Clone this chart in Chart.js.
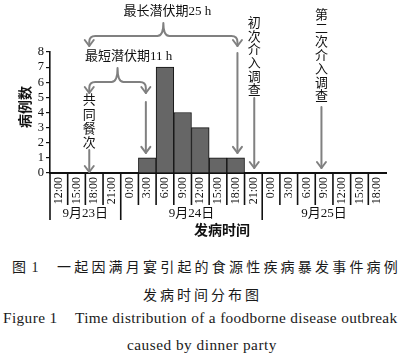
<!DOCTYPE html>
<html>
<head>
<meta charset="utf-8">
<script src="https://cdn.jsdelivr.net/npm/chart.js@4/dist/chart.umd.min.js"></script>
<style>
  html, body { margin: 0; padding: 0; background: #fff; }
  #wrap { position: relative; width: 406px; height: 356px; overflow: hidden; background: #fff; }
  #box { position: absolute; left: 0; top: 0; width: 406px; height: 240px; }
  .cap { position: absolute; white-space: nowrap; color: #1a1a1a; }
  .cn { font-family: "Liberation Serif", "Noto Sans CJK SC", serif; font-size: 14px; }
  .en { font-family: "Liberation Serif", serif; font-size: 15.3px; }
</style>
</head>
<body>
<div id="wrap">
  <div id="box"><canvas id="c"></canvas></div>
  <div class="cap cn" style="left:12px; top:256px; letter-spacing:1px;">图 1</div>
  <div class="cap cn" style="left:57px; top:256px; letter-spacing:3.2px;">一起因满月宴引起的食源性疾病暴发事件病例</div>
  <div class="cap cn" style="left:143px; top:284px; letter-spacing:3px;">发病时间分布图</div>
  <div class="cap en" style="left:3px; top:309px; letter-spacing:0.4px;">Figure 1</div>
  <div class="cap en" style="left:75px; top:309px; letter-spacing:0.35px;">Time distribution of a foodborne disease outbreak</div>
  <div class="cap en" style="left:127px; top:336px; letter-spacing:0.5px;">caused by dinner party</div>
</div>
<script>
// ---- data ----
const timeLabels = ['12:00','15:00','18:00','21:00','0:00','3:00','6:00','9:00','12:00','15:00','18:00','21:00','0:00','3:00','6:00','9:00','12:00','15:00','18:00'];
const caseCounts = [0,0,0,0,0,1,7,4,3,1,1,0,0,0,0,0,0,0,0];
const dayLabels = ['9月23日','9月24日','9月25日'];
const dayStartIndex = [0, 4, 12];
const yTickMax = 8;
// event positions on the time axis (category index, fractional)
const mealIndex = 1.72;
const minIncubationIndex = 4.92;
const maxIncubationIndex = 10.1;
const firstInvestigationIndex = 11.05;
const secondInvestigationIndex = 14.85;
const maxIncubationText = '最长潜伏期25 h';
const minIncubationText = '最短潜伏期11 h';
const mealText = '共同餐次';
const firstInvestigationText = '初次介入调查';
const secondInvestigationText = '第二次介入调查';

const serif = '"Liberation Serif", "Noto Sans CJK SC", serif';
const GRAY = '#808080';

function arrowHead(ctx, x, y) {
  ctx.beginPath();
  ctx.moveTo(x - 4.5, y - 6);
  ctx.lineTo(x, y);
  ctx.lineTo(x + 4.5, y - 6);
  ctx.stroke();
}
function vArrow(ctx, x, y1, y2) {
  ctx.beginPath();
  ctx.moveTo(x, y1);
  ctx.lineTo(x, y2);
  ctx.stroke();
  arrowHead(ctx, x, y2);
}
function brace(ctx, x1, x2, yH, yPeak, yTip) {
  const r = 6, xm = (x1 + x2) / 2;
  ctx.beginPath();
  ctx.moveTo(x1, yTip);
  ctx.lineTo(x1, yH + r);
  ctx.quadraticCurveTo(x1, yH, x1 + r, yH);
  ctx.lineTo(xm - r, yH);
  ctx.quadraticCurveTo(xm, yH, xm, yPeak);
  ctx.quadraticCurveTo(xm, yH, xm + r, yH);
  ctx.lineTo(x2 - r, yH);
  ctx.quadraticCurveTo(x2, yH, x2, yH + r);
  ctx.lineTo(x2, yTip);
  ctx.stroke();
  arrowHead(ctx, x1, yTip);
  arrowHead(ctx, x2, yTip);
}
function vText(ctx, str, x, y0, step) {
  ctx.textAlign = 'center';
  ctx.textBaseline = 'middle';
  [...str].forEach((ch, i) => ctx.fillText(ch, x, y0 + i * step));
}

const overlay = {
  id: 'overlay',
  afterDraw(chart) {
    const ctx = chart.ctx;
    const xs = chart.scales.x, ys = chart.scales.y;
    const base = ys.getPixelForValue(0);
    ctx.save();
    // separators below the axis
    ctx.strokeStyle = '#111';
    ctx.lineWidth = 1.6;
    for (let i = 0; i < timeLabels.length; i++) {
      const x = xs.getPixelForValue(i - 0.5);
      const isDay = dayStartIndex.includes(i);
      ctx.beginPath();
      ctx.moveTo(x, base);
      ctx.lineTo(x, isDay ? base + 47 : base + 32);
      ctx.stroke();
    }
    // day labels
    ctx.fillStyle = '#111';
    ctx.font = '13px ' + serif;
    ctx.textAlign = 'center';
    ctx.textBaseline = 'middle';
    dayLabels.forEach((d, k) => {
      const s = dayStartIndex[k];
      const e = k + 1 < dayStartIndex.length ? dayStartIndex[k + 1] : timeLabels.length;
      const cx = (xs.getPixelForValue(s - 0.5) + xs.getPixelForValue(e - 0.5)) / 2;
      ctx.fillText(d, cx, base + 41);
    });
    // axis titles
    ctx.font = 'bold 14px "Noto Sans CJK SC"';
    ctx.fillText('发病时间', 222, 230);
    ctx.save();
    ctx.translate(25, 107);
    ctx.rotate(-Math.PI / 2);
    ctx.font = 'bold 14px "Noto Sans CJK SC"';
    ctx.fillText('病例数', 0, 0);
    ctx.restore();

    // annotations
    const xMeal = xs.getPixelForValue(mealIndex);
    const xMin = xs.getPixelForValue(minIncubationIndex);
    const xMax = xs.getPixelForValue(maxIncubationIndex);
    const xF = xs.getPixelForValue(firstInvestigationIndex);
    const xS = xs.getPixelForValue(secondInvestigationIndex);
    ctx.strokeStyle = GRAY;
    ctx.lineWidth = 2;
    ctx.lineCap = 'round';
    ctx.lineJoin = 'round';
    brace(ctx, xMeal, xMax, 36, 23, 46);
    brace(ctx, xMeal, xMin, 82, 68, 93);
    vArrow(ctx, xMeal, 150, base - 1);
    vArrow(ctx, xMin, 102, ys.getPixelForValue(1) - 5);
    vArrow(ctx, xMax, 53, ys.getPixelForValue(1) - 5);
    vArrow(ctx, xF, 98, base - 5);
    vArrow(ctx, xS, 107, base - 5);

    ctx.fillStyle = '#111';
    ctx.font = '13px ' + serif;
    ctx.textAlign = 'center';
    ctx.textBaseline = 'middle';
    ctx.fillText(maxIncubationText, (xMeal + xMax) / 2 + 4, 12);
    ctx.fillText(minIncubationText, (xMeal + xMin) / 2 + 11, 57);
    vText(ctx, mealText, xMeal, 101, 14.2);
    vText(ctx, firstInvestigationText, xF, 24, 13.3);
    vText(ctx, secondInvestigationText, xS, 16, 13.5);
    ctx.restore();
  }
};

new Chart(document.getElementById('c'), {
  type: 'bar',
  data: {
    labels: timeLabels,
    datasets: [{
      data: caseCounts,
      backgroundColor: '#666666',
      borderColor: '#111111',
      borderWidth: 1,
      barPercentage: 1,
      categoryPercentage: 1
    }]
  },
  options: {
    responsive: true,
    maintainAspectRatio: false,
    animation: false,
    devicePixelRatio: 1,
    layout: { padding: { top: 52, right: 20, left: 0, bottom: 0 } },
    plugins: { legend: { display: false }, tooltip: { enabled: false }, title: { display: false } },
    scales: {
      x: {
        offset: true,
        grid: { display: false, drawTicks: false },
        border: { display: true, color: '#111', width: 2 },
        ticks: {
          autoSkip: false, minRotation: 90, maxRotation: 90, padding: 4,
          color: '#111', font: { family: '"Liberation Serif", serif', size: 12 }
        },
        afterFit(s) { s.height = 67; }
      },
      y: {
        min: 0, max: yTickMax,
        grid: { display: true, drawOnChartArea: false, drawTicks: true, tickLength: 4, color: '#111', lineWidth: 1.2 },
        border: { display: true, color: '#111', width: 1.6 },
        ticks: { stepSize: 1, autoSkip: false, padding: 2, color: '#111', font: { family: '"Liberation Serif", serif', size: 12.5 } },
        afterFit(s) { s.width = 50; }
      }
    }
  },
  plugins: [overlay]
});
</script>
</body>
</html>
